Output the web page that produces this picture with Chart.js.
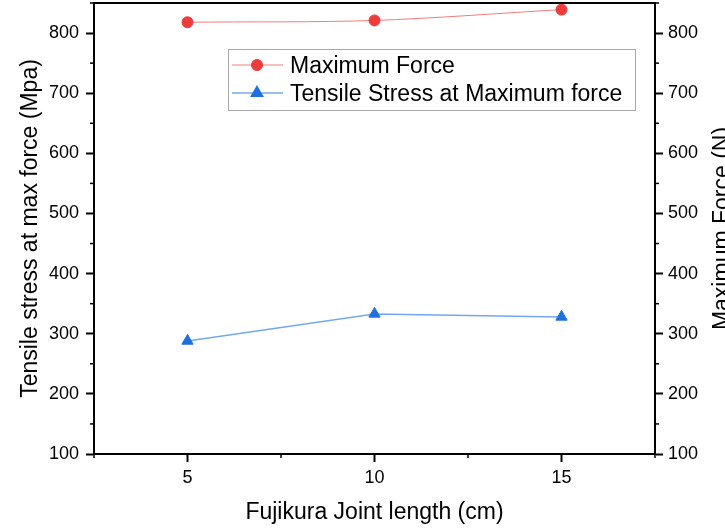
<!DOCTYPE html>
<html>
<head>
<meta charset="utf-8">
<script src="https://cdn.jsdelivr.net/npm/chart.js@4/dist/chart.umd.min.js"></script>
<style>
  html, body { margin: 0; padding: 0; background: #fff; overflow: hidden; }
  canvas { display: block; }
</style>
</head>
<body>
<canvas id="chart" width="725" height="529"></canvas>
<script>
// Joint length (cm) on the x axis
const jointLength = [5, 10, 15];
// Maximum force (N), right axis
const maxForce = [818, 821, 839];
// Tensile stress at maximum force (MPa), left axis
const tensileStress = [288, 333, 328];

const xTicks = [5, 10, 15];
const xMinorTicks = [2.5, 7.5, 12.5, 17.5];
const yTicks = [100, 200, 300, 400, 500, 600, 700, 800];
const yMinorTicks = [150, 250, 350, 450, 550, 650, 750, 850];

const seriesNames = ['Maximum Force', 'Tensile Stress at Maximum force'];
const xTitle = 'Fujikura Joint length (cm)';
const yLeftTitle = 'Tensile stress at max force (Mpa)';
const yRightTitle = 'Maximum Force (N)';

const FONT = "'Liberation Sans', Arial, sans-serif";
const RED = '#ee3b3b', RED_LINE = '#f27d7d';
const BLUE = '#1f6fdc', BLUE_LINE = '#74a8ee';

const toPoints = (xs, ys) => xs.map((x, i) => ({ x, y: ys[i] }));
const fixedTicks = list => scale => { scale.ticks = list.map(v => ({ value: v })); };

function axis(extra) {
  return Object.assign({
    border: { display: true, color: '#000', width: 2 },
    grid: { drawOnChartArea: false, drawTicks: true, tickLength: 8, tickColor: '#000', tickWidth: 2 },
    ticks: { color: '#000', font: { family: FONT, size: 18 } }
  }, extra);
}

// Minor ticks, frame top, axis titles and legend box
const decorations = {
  id: 'decorations',
  afterDraw(chart) {
    const { ctx, chartArea: a, scales } = chart;
    const seg = (x1, y1, x2, y2) => { ctx.beginPath(); ctx.moveTo(x1, y1); ctx.lineTo(x2, y2); ctx.stroke(); };
    ctx.save();
    ctx.strokeStyle = '#000';
    ctx.lineWidth = 2;
    seg(a.left - 1, a.top, a.right + 1, a.top);

    ctx.lineWidth = 1.5;
    xMinorTicks.forEach(v => {
      const px = scales.x.getPixelForValue(v);
      seg(px, a.bottom, px, a.bottom + 4);
    });
    yMinorTicks.forEach(v => {
      const py = scales.y.getPixelForValue(v);
      seg(a.left - 4, py, a.left, py);
      const pr = scales.y2.getPixelForValue(v);
      seg(a.right, pr, a.right + 4, pr);
    });

    // axis titles
    ctx.fillStyle = '#000';
    ctx.font = `23px ${FONT}`;
    ctx.textAlign = 'center';
    ctx.textBaseline = 'alphabetic';
    ctx.fillText(xTitle, (a.left + a.right) / 2, 519);
    const midY = (a.top + a.bottom) / 2;
    ctx.save();
    ctx.translate(37, midY);
    ctx.rotate(-Math.PI / 2);
    ctx.fillText(yLeftTitle, 0, 0);
    ctx.restore();
    ctx.save();
    ctx.translate(729, midY);
    ctx.rotate(-Math.PI / 2);
    ctx.fillText(yRightTitle, 0, 0);
    ctx.restore();

    // legend
    ctx.strokeStyle = '#a8a8a8';
    ctx.lineWidth = 1;
    ctx.strokeRect(228.5, 49.5, 407, 61);
    const rows = [65, 93];
    chart.data.datasets.forEach((ds, i) => {
      const y = rows[i];
      ctx.strokeStyle = ds.borderColor;
      ctx.lineWidth = ds.borderWidth;
      seg(232, y, 283, y);
      ctx.fillStyle = ds.pointBackgroundColor;
      ctx.strokeStyle = ds.pointBorderColor;
      Chart.helpers.drawPoint(ctx, {
        pointStyle: ds.pointStyle, radius: ds.pointRadius, rotation: 0, borderWidth: ds.pointBorderWidth
      }, 257, y);
      ctx.fillStyle = '#000';
      ctx.font = `23px ${FONT}`;
      ctx.textAlign = 'left';
      ctx.textBaseline = 'alphabetic';
      ctx.fillText(ds.label, 290, y + 8);
    });
    ctx.restore();
  }
};

new Chart(document.getElementById('chart'), {
  type: 'line',
  data: {
    datasets: [
      {
        label: seriesNames[0],
        data: toPoints(jointLength, maxForce),
        yAxisID: 'y2',
        borderColor: RED_LINE,
        borderWidth: 1,
        tension: 0.3,
        pointStyle: 'circle',
        pointRadius: 5.5,
        pointBackgroundColor: RED,
        pointBorderColor: RED,
        pointBorderWidth: 1
      },
      {
        label: seriesNames[1],
        data: toPoints(jointLength, tensileStress),
        yAxisID: 'y',
        borderColor: BLUE_LINE,
        borderWidth: 1.5,
        tension: 0,
        pointStyle: 'triangle',
        pointRadius: 6.5,
        pointBackgroundColor: BLUE,
        pointBorderColor: BLUE,
        pointBorderWidth: 1
      }
    ]
  },
  options: {
    responsive: false,
    animation: false,
    layout: { autoPadding: false, padding: { top: 3, left: 0, right: 0, bottom: 0 } },
    plugins: { legend: { display: false }, tooltip: { enabled: false } },
    scales: {
      x: axis({
        type: 'linear', position: 'bottom', min: 2.5, max: 17.5,
        afterBuildTicks: fixedTicks(xTicks),
        afterFit: s => { s.height = 75; s.paddingLeft = 0; s.paddingRight = 0; },
        ticks: { color: '#000', font: { family: FONT, size: 18 }, padding: 5, maxRotation: 0, autoSkip: false }
      }),
      y: axis({
        type: 'linear', position: 'left', min: 100, max: 850,
        afterBuildTicks: fixedTicks(yTicks),
        afterFit: s => { s.width = 94; s.paddingTop = 0; s.paddingBottom = 0; },
        ticks: { color: '#000', font: { family: FONT, size: 18 }, padding: 7, autoSkip: false }
      }),
      y2: axis({
        type: 'linear', position: 'right', min: 100, max: 850,
        afterBuildTicks: fixedTicks(yTicks),
        afterFit: s => { s.width = 70; s.paddingTop = 0; s.paddingBottom = 0; },
        ticks: { color: '#000', font: { family: FONT, size: 18 }, padding: 5, autoSkip: false }
      })
    }
  },
  plugins: [decorations]
});
</script>
</body>
</html>
